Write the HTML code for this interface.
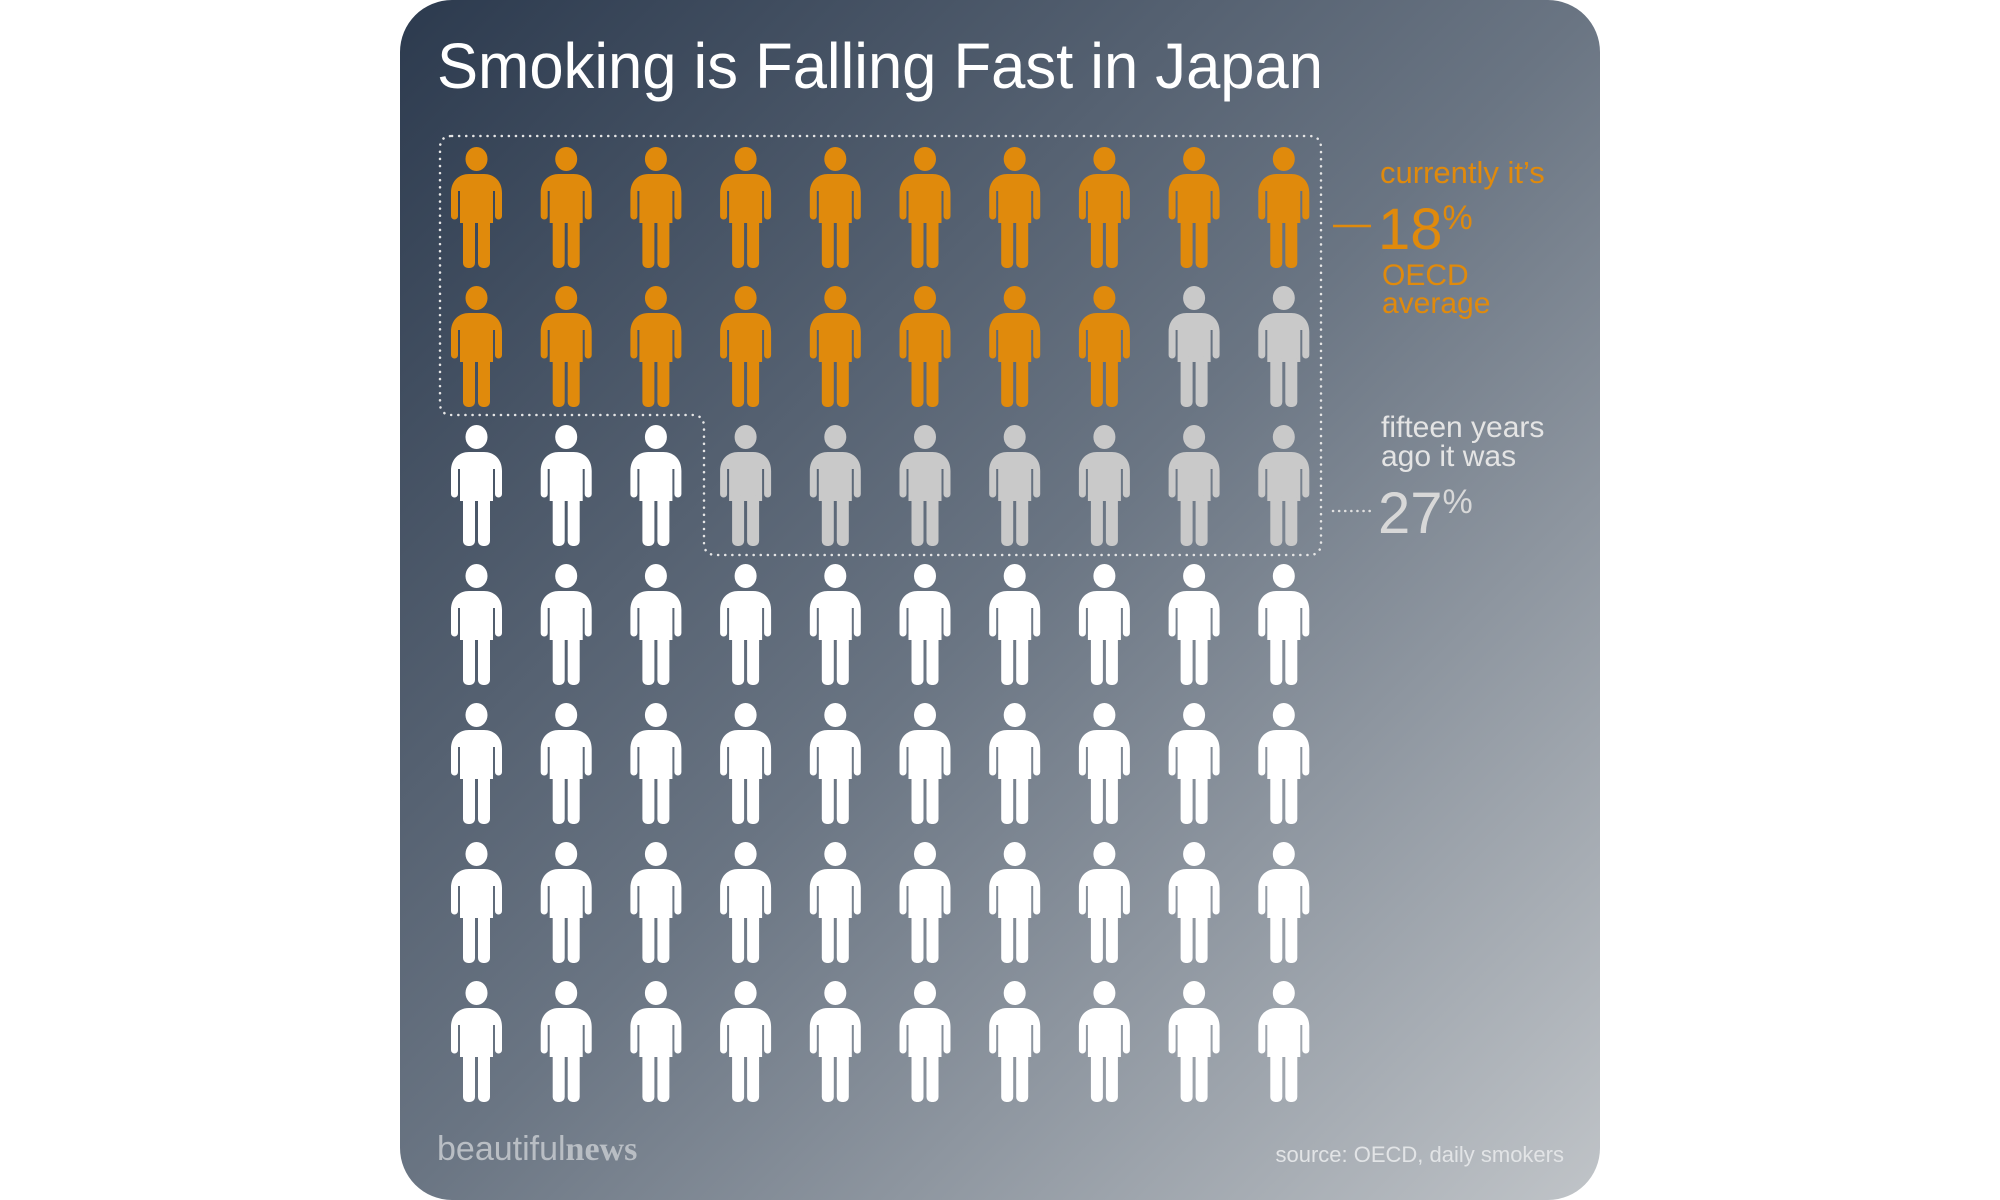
<!DOCTYPE html>
<html><head><meta charset="utf-8"><style>
html,body{margin:0;padding:0;background:#fff;}
svg{display:block}
text{font-family:"Liberation Sans",sans-serif}
</style></head><body>
<svg id="chart" width="2000" height="1200" viewBox="0 0 2000 1200">
<defs>
<linearGradient id="bg" x1="0" y1="0" x2="1" y2="1">
<stop offset="0" stop-color="#2c3a4e"/><stop offset="0.5" stop-color="#6a7583"/><stop offset="1" stop-color="#c0c4c8"/>
</linearGradient>
</defs>
<rect x="400" y="0" width="1200" height="1200" rx="52" fill="url(#bg)"/>
<text x="437" y="88" font-size="64" fill="#fff" textLength="886" lengthAdjust="spacingAndGlyphs">Smoking is Falling Fast in Japan</text>
<path d="M452,136 H1309 Q1321,136 1321,148 V543 Q1321,555 1309,555 H716 Q704,555 704,543 V427 Q704,415 692,415 H452 Q440,415 440,403 V148 Q440,136 452,136 Z" fill="none" stroke="#e6e6e6" stroke-width="2.5" stroke-linecap="round" stroke-dasharray="0.1 7"/>
<g id="people"></g>
<line x1="1333" y1="226" x2="1371" y2="226" stroke="#e08a0c" stroke-width="2.5"/>
<text x="1380" y="183" font-size="31" fill="#e08a0c">currently it’s</text>
<text x="1378" y="249" font-size="58" fill="#e08a0c">18<tspan font-size="34" dy="-20">%</tspan></text>
<text x="1382" y="285" font-size="30" fill="#e08a0c">OECD</text>
<text x="1382" y="313" font-size="30" fill="#e08a0c">average</text>
<line x1="1333" y1="511" x2="1371" y2="511" stroke="#e0e0e0" stroke-width="2.5" stroke-linecap="round" stroke-dasharray="0.1 6"/>
<text x="1381" y="437" font-size="30" fill="#e4e4e4">fifteen years</text>
<text x="1381" y="466" font-size="30" fill="#e4e4e4">ago it was</text>
<text x="1378" y="533" font-size="58" fill="#d8d8d8">27<tspan font-size="34" dy="-20">%</tspan></text>
<text x="437" y="1160" font-size="34" fill="#b9bec4">beautiful<tspan font-family="Liberation Serif" font-weight="bold">news</tspan></text>
<text x="1564" y="1162" font-size="22" fill="#e2e4e6" text-anchor="end">source: OECD, daily smokers</text>
</svg>
<script>
const totalPeople = 70;
const currentSmokers = 18;
const pastSmokers = 27;
const columns = 10;
const colors = {current:"#e08a0c", past:"#c9c9c9", none:"#ffffff"};
const NS="http://www.w3.org/2000/svg";
const g=document.getElementById('people');
const x0=451, y0=147, dx=89.7, dy=139;
function inPast(r,c){
  const full=Math.floor(pastSmokers/columns), rem=pastSmokers%columns;
  return r<full || (r===full && c>=columns-rem);
}
function person(i){
  const c=i%columns, r=Math.floor(i/columns);
  const fill = i<currentSmokers?colors.current:(inPast(r,c)?colors.past:colors.none);
  const grp=document.createElementNS(NS,'g');
  grp.setAttribute('transform',`translate(${x0+c*dx},${y0+r*dy})`);
  grp.setAttribute('fill',fill);
  
  
  grp.innerHTML='<ellipse cx="25.5" cy="12" rx="11" ry="12"/>'+
  '<path d="M0,46 C0,33 9,27 18,27 H33 C42,27 51,33 51,46 V69 A3.5,3.5 0 0 1 44,69 V44 H42 V76 H9 V44 H7 V69 A3.5,3.5 0 0 1 0,69 Z"/>'+
  '<rect x="12" y="70" width="12" height="51" rx="5"/><rect x="27" y="70" width="12" height="51" rx="5"/>';
  g.appendChild(grp);
}
for(let i=0;i<totalPeople;i++) person(i);
</script>
</body></html>
